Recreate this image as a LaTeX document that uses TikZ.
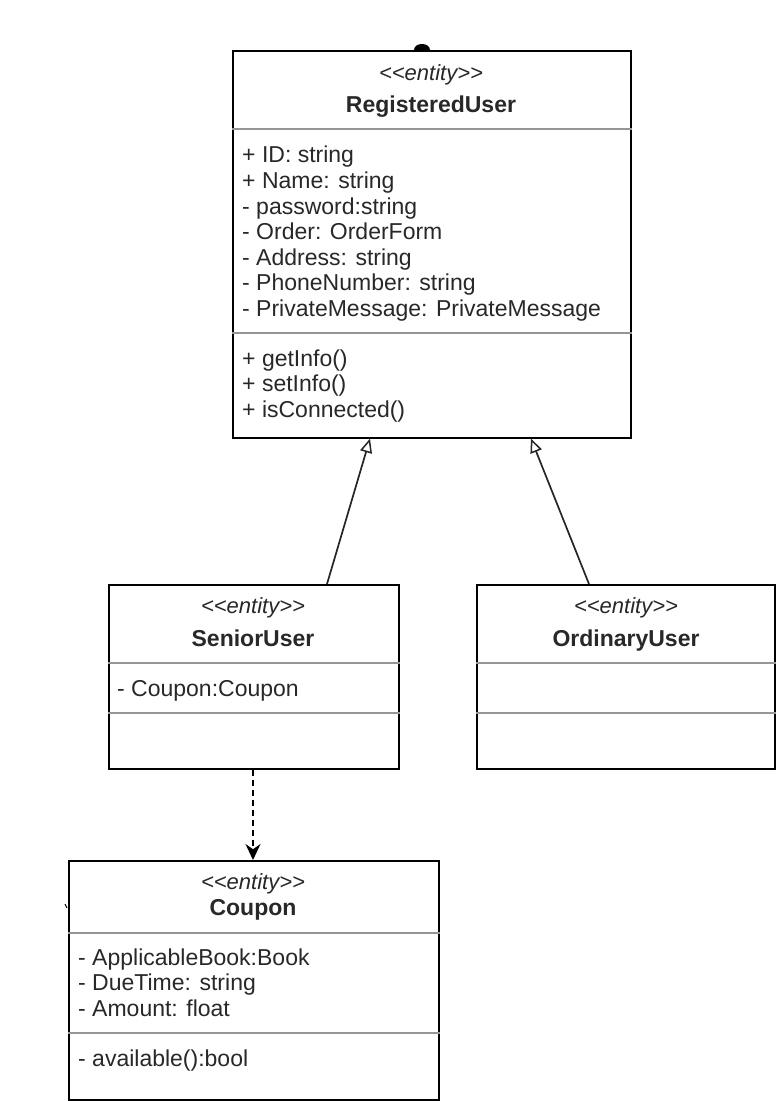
\documentclass[tikz,border=0pt]{standalone}
\usepackage{fontspec}
\setmainfont[Ligatures=TeXOff]{Liberation Sans}
\usetikzlibrary{arrows.meta}
\definecolor{txt}{RGB}{40,40,40}
\definecolor{divider}{RGB}{150,150,150}
\newcommand{\stereotxt}{<\kern0pt<entity>\kern0pt>}
\tikzset{
  umlbox/.style={draw=black, line width=1.6pt, fill=white, inner sep=0pt, anchor=north west},
  divline/.style={draw=divider, line width=1.1pt},
  txtbox/.style={text height=17pt, text depth=1pt, inner sep=0pt, text=txt},
  stereo/.style={txtbox, font=\fontsize{22}{26}\selectfont\itshape, anchor=center},
  cname/.style={txtbox, font=\fontsize{23}{27}\selectfont\bfseries, anchor=center},
  member/.style={txtbox, font=\fontsize{23}{27}\selectfont, anchor=west},
  gen/.style={draw=black!85, line width=1.7pt, -{Triangle[open, length=14pt, width=12pt, line width=1.5pt]}},
  dep/.style={draw=black, line width=1.6pt, dashed, dash pattern=on 6pt off 4pt, -{Stealth[length=16pt, width=15pt]}}
}
\begin{document}
\begin{tikzpicture}[x=1pt, y=-1pt]
\useasboundingbox (0,0) rectangle (776,1101);
\fill[white] (0,0) rectangle (776,1101);

% RegisteredUser
\node[umlbox, minimum width=398pt, minimum height=387pt] (ru) at (232,50) {};
\draw[divline] (ru.north west |- 0,129) -- (ru.north east |- 0,129);
\draw[divline] (ru.north west |- 0,333) -- (ru.north east |- 0,333);
\node[stereo] (ruS) at (431,72) {\stereotxt};
\node[cname] (ruN) at (431,104) {RegisteredUser};
\node[member] (ru1) at (242,154) {+ ID: string};
\node[member] (ru2) at (242,180) {+ Name: string};
\node[member] (ru3) at (242,206) {- password:string};
\node[member] (ru4) at (242,231) {- Order: OrderForm};
\node[member] (ru5) at (242,257) {- Address: string};
\node[member] (ru6) at (242,282) {- PhoneNumber: string};
\node[member] (ru7) at (242,308) {- PrivateMessage: PrivateMessage};
\node[member] (ru8) at (242,358) {+ getInfo()};
\node[member] (ru9) at (242,383) {+ setInfo()};
\node[member] (ru10) at (242,409) {+ isConnected()};
\fill[black] (414,50) .. controls (414,42) and (430,42) .. (430,50) -- cycle;

% SeniorUser
\node[umlbox, minimum width=290pt, minimum height=184pt] (su) at (108,584) {};
\draw[divline] (su.north west |- 0,663) -- (su.north east |- 0,663);
\draw[divline] (su.north west |- 0,713) -- (su.north east |- 0,713);
\node[stereo] (suS) at (253,605) {\stereotxt};
\node[cname] (suN) at (253,638) {SeniorUser};
\node[member] (su1) at (117,688) {- Coupon:Coupon};

% OrdinaryUser
\node[umlbox, minimum width=298pt, minimum height=184pt] (ou) at (476,584) {};
\draw[divline] (ou.north west |- 0,663) -- (ou.north east |- 0,663);
\draw[divline] (ou.north west |- 0,713) -- (ou.north east |- 0,713);
\node[stereo] (ouS) at (626,605) {\stereotxt};
\node[cname] (ouN) at (626,638) {OrdinaryUser};

% Coupon
\node[umlbox, minimum width=370pt, minimum height=239pt] (cp) at (68,860) {};
\draw[divline] (cp.north west |- 0,933) -- (cp.north east |- 0,933);
\draw[divline] (cp.north west |- 0,1033) -- (cp.north east |- 0,1033);
\node[stereo] (cpS) at (253,881) {\stereotxt};
\node[cname] (cpN) at (253,907) {Coupon};
\node[member] (cp1) at (78,957) {- ApplicableBook:Book};
\node[member] (cp2) at (78,982) {- DueTime: string};
\node[member] (cp3) at (78,1008) {- Amount: float};
\node[member] (cp4) at (78,1058) {- available():bool};
\draw[black, line width=1pt] (65,904) -- (67,908);

% connectors
\coordinate (g1s) at (su.north -| 327,0);
\coordinate (g1e) at (ru.south -| 370,0);
\coordinate (g2s) at (ou.north -| 589,0);
\coordinate (g2e) at (ru.south -| 531,0);
\draw[gen] (g1s) -- (g1e);
\draw[gen] (g2s) -- (g2e);
\coordinate (d1s) at (su.south -| 253,0);
\coordinate (d1e) at (cp.north -| 253,0);
\draw[dep] (d1s) -- (d1e);
\end{tikzpicture}
\end{document}
